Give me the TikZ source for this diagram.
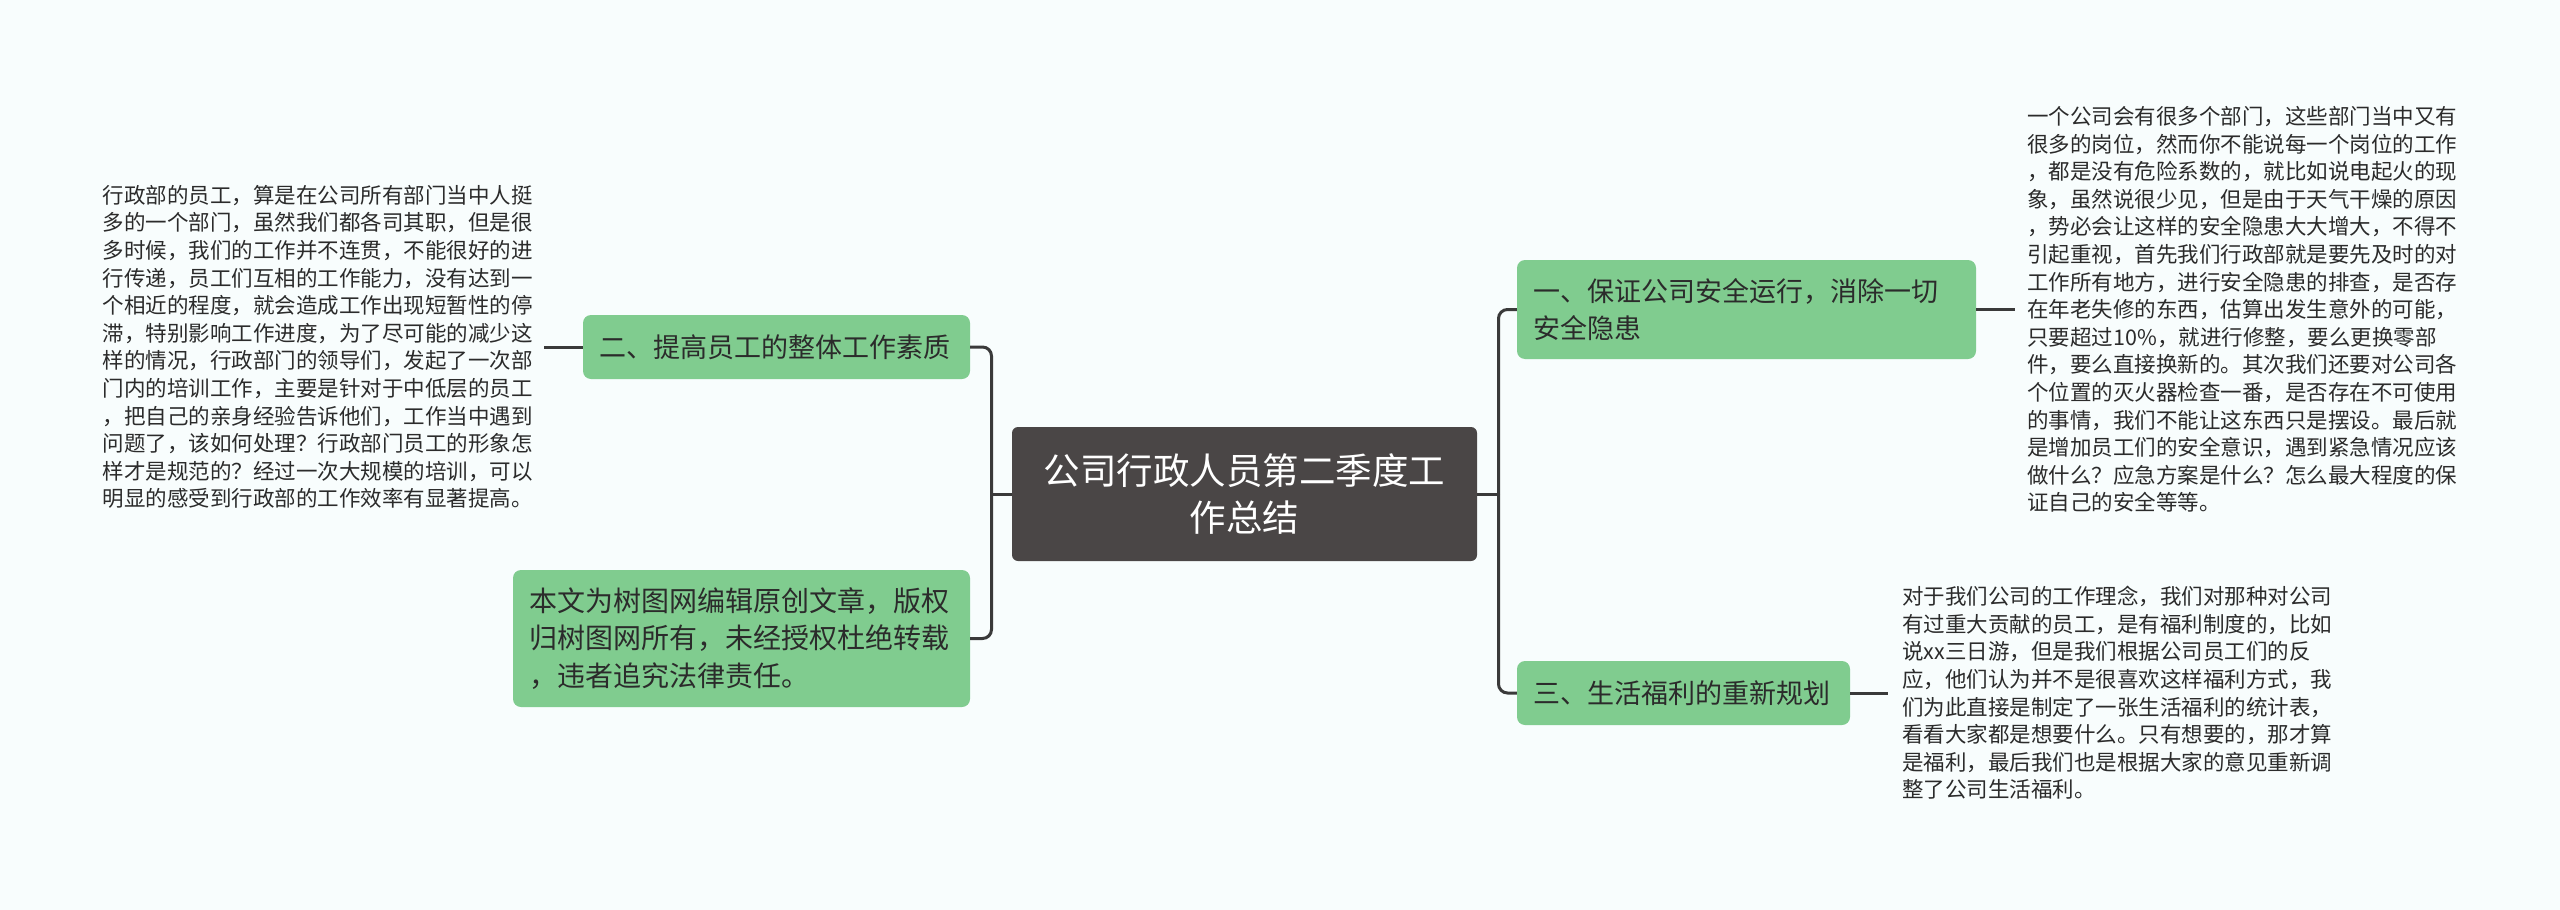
\documentclass[tikz,border=0pt]{standalone}
\usepackage{fontspec}
\setmainfont{Noto Sans CJK SC}
\usepackage{xcolor}
\usepackage{tikz}
\usetikzlibrary{positioning}
\definecolor{mBack}{HTML}{F8FDFD}
\definecolor{mHub}{HTML}{4A4646}
\definecolor{mTopic}{HTML}{80CC8F}
\definecolor{mLine}{HTML}{3A3A3A}
\definecolor{mInk}{HTML}{2B2B2B}

\begin{document}
\begin{tikzpicture}[x=1pt, y=-1pt,
  hub/.style={fill=mHub, text=white, rounded corners=6pt, align=center,
    font=\fontsize{36.5}{47}\selectfont, minimum width=465pt, minimum height=134pt},
  topic/.style={fill=mTopic, text=mInk, rounded corners=8pt, align=left,
    font=\fontsize{27}{37}\selectfont, inner xsep=16pt, inner ysep=0pt},
  leaf/.style={text=mInk, align=left, font=\fontsize{21.5}{27.6}\selectfont, inner ysep=0pt},
  link/.style={draw=mLine, line width=3pt, rounded corners=9pt}]
  \fill[mBack] (0,0) rectangle (2560,910);
  \useasboundingbox (0,0) rectangle (2560,910);
  % centre
  \node[hub] (c) at (1244.5,494) {公司行政人员第二季度工\\作总结};
  % right side
  \node[topic, text width=427pt, minimum height=99pt] (t1) at (1746.5,309.5)
    {一、保证公司安全运行，消除一切\\安全隐患};
  \node[topic, text width=301pt, minimum height=64pt] (t3) at (1683.5,693)
    {三、生活福利的重新规划};
  % left side
  \node[topic, text width=355pt, minimum height=64pt] (t2) at (776.5,347)
    {二、提高员工的整体工作素质};
  \node[topic, text width=425pt, minimum height=137pt, font=\fontsize{28}{37.5}\selectfont] (t4) at (741.5,638.5)
    {本文为树图网编辑原创文章，版权\\归树图网所有，未经授权杜绝转载\\，违者追究法律责任。};
  % leaves
  \node[leaf, inner xsep=12pt, right=39pt of t1] (l1) {一个公司会有很多个部门，这些部门当中又有\\很多的岗位，然而你不能说每一个岗位的工作\\，都是没有危险系数的，就比如说电起火的现\\象，虽然说很少见，但是由于天气干燥的原因\\，势必会让这样的安全隐患大大增大，不得不\\引起重视，首先我们行政部就是要先及时的对\\工作所有地方，进行安全隐患的排查，是否存\\在年老失修的东西，估算出发生意外的可能，\\只要超过10\%，就进行修整，要么更换零部\\件，要么直接换新的。其次我们还要对公司各\\个位置的灭火器检查一番，是否存在不可使用\\的事情，我们不能让这东西只是摆设。最后就\\是增加员工们的安全意识，遇到紧急情况应该\\做什么？应急方案是什么？怎么最大程度的保\\证自己的安全等等。};
  \node[leaf, inner xsep=14pt, right=38pt of t3] (l3) {对于我们公司的工作理念，我们对那种对公司\\有过重大贡献的员工，是有福利制度的，比如\\说xx三日游，但是我们根据公司员工们的反\\应，他们认为并不是很喜欢这样福利方式，我\\们为此直接是制定了一张生活福利的统计表，\\看看大家都是想要什么。只有想要的，那才算\\是福利，最后我们也是根据大家的意见重新调\\整了公司生活福利。};
  \node[leaf, inner xsep=11pt, left=39pt of t2] (l2) {行政部的员工，算是在公司所有部门当中人挺\\多的一个部门，虽然我们都各司其职，但是很\\多时候，我们的工作并不连贯，不能很好的进\\行传递，员工们互相的工作能力，没有达到一\\个相近的程度，就会造成工作出现短暂性的停\\滞，特别影响工作进度，为了尽可能的减少这\\样的情况，行政部门的领导们，发起了一次部\\门内的培训工作，主要是针对于中低层的员工\\，把自己的亲身经验告诉他们，工作当中遇到\\问题了，该如何处理？行政部门员工的形象怎\\样才是规范的？经过一次大规模的培训，可以\\明显的感受到行政部的工作效率有显著提高。};
  % connectors
  \coordinate (jr) at (1498.5,494);
  \coordinate (jl) at (991.5,494);
  \draw[link] (c.east) -- (jr);
  \draw[link] (jr) |- (t1.west);
  \draw[link] (jr) |- (t3.west);
  \draw[link] (c.west) -- (jl);
  \draw[link] (jl) |- (t2.east);
  \draw[link] (jl) |- (t4.east);
  \draw[link] (t1.east) -- (l1.west);
  \draw[link] (t3.east) -- (l3.west);
  \draw[link] (t2.west) -- (l2.east);
\end{tikzpicture}
\end{document}
